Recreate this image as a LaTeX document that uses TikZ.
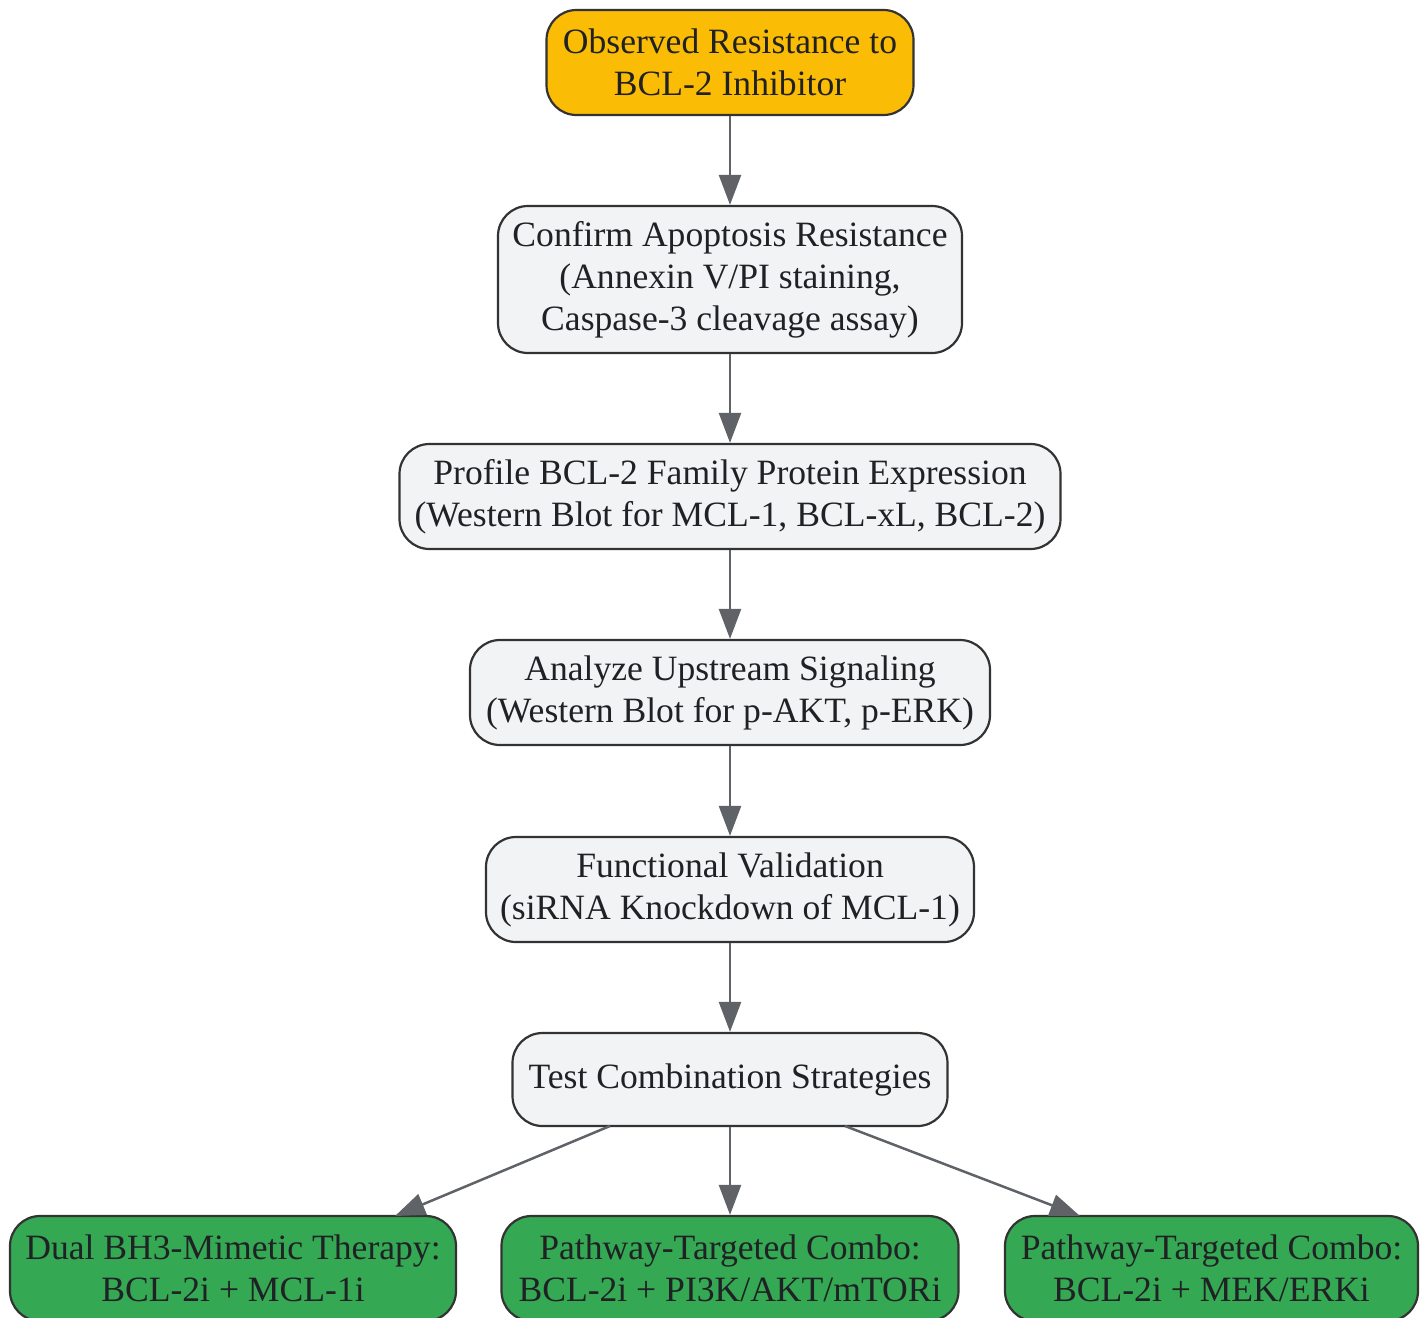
\documentclass[tikz,border=0pt]{standalone}
\usepackage{fontspec}
\setmainfont{Liberation Serif}
\usetikzlibrary{arrows.meta}
\definecolor{yel}{HTML}{FBBC05}
\definecolor{gry}{HTML}{F1F3F4}
\definecolor{grn}{HTML}{34A853}
\definecolor{edge}{HTML}{5F6368}
\definecolor{bord}{HTML}{333333}
\definecolor{txt}{HTML}{202124}
\begin{document}
\begin{tikzpicture}[x=1pt,y=-1pt,
  box/.style={draw=bord,line width=2.2pt,rounded corners=30pt,align=center,
    text=txt,font=\fontsize{35.6}{42}\selectfont,inner sep=0pt},
  conn/.style={draw=edge,line width=2.5pt,-{Triangle[length=30pt,width=22pt]}}]
\useasboundingbox (0,0) rectangle (1428,1318);
\node[box,fill=yel,minimum width=367pt,minimum height=105pt] (n1) at (730,62.5) {Observed Resistance to\\BCL-2 Inhibitor};
\node[box,fill=gry,minimum width=464pt,minimum height=147pt] (n2) at (730,279.5) {Confirm Apoptosis Resistance\\(Annexin V/PI staining,\\Caspase-3 cleavage assay)};
\node[box,fill=gry,minimum width=661pt,minimum height=105pt] (n3) at (730,496.5) {Profile BCL-2 Family Protein Expression\\(Western Blot for MCL-1, BCL-xL, BCL-2)};
\node[box,fill=gry,minimum width=520pt,minimum height=105pt] (n4) at (730,692.5) {Analyze Upstream Signaling\\(Western Blot for p-AKT, p-ERK)};
\node[box,fill=gry,minimum width=488pt,minimum height=105pt] (n5) at (730,889.5) {Functional Validation\\(siRNA Knockdown of MCL-1)};
\node[box,fill=gry,minimum width=435pt,minimum height=93pt] (n6) at (730,1079.5) {Test Combination Strategies};
\node[box,fill=grn,minimum width=446pt,minimum height=105pt] (b1) at (233,1268.5) {Dual BH3-Mimetic Therapy:\\BCL-2i + MCL-1i};
\node[box,fill=grn,minimum width=457pt,minimum height=105pt] (b2) at (730,1268.5) {Pathway-Targeted Combo:\\BCL-2i + PI3K/AKT/mTORi};
\node[box,fill=grn,minimum width=413pt,minimum height=105pt] (b3) at (1211.5,1268.5) {Pathway-Targeted Combo:\\BCL-2i + MEK/ERKi};
\draw[conn] (n1) -- (n2);
\draw[conn] (n2) -- (n3);
\draw[conn] (n3) -- (n4);
\draw[conn] (n4) -- (n5);
\draw[conn] (n5) -- (n6);
\draw[conn] (n6) -- (b2);
\coordinate (s1) at (610,1126);
\coordinate (s3) at (845,1126);
\coordinate (e1) at (395,1216);
\coordinate (e3) at (1080,1216);
\draw[conn] (s1) -- (e1);
\draw[conn] (s3) -- (e3);
\end{tikzpicture}
\end{document}
